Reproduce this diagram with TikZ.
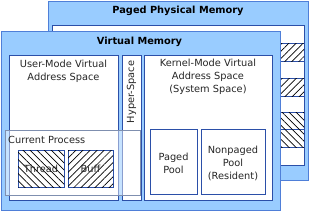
\documentclass[tikz,border=0pt]{standalone}
\usepackage{fontspec}
\setmainfont{DejaVu Sans}
\usetikzlibrary{patterns.meta}
\definecolor{lb}{HTML}{99CCFF}
\definecolor{bd}{HTML}{4F7FD8}
\definecolor{dk}{HTML}{2B4FA8}
\definecolor{cpb}{HTML}{7F8FAF}
\tikzset{
 frame/.style={fill=lb, draw=bd, line width=1pt},
 panel/.style={fill=white, draw=dk, line width=0.7pt},
 fwd/.style={postaction={pattern={Lines[angle=45,distance=5pt,line width=0.7pt]}}},
 bwd/.style={postaction={pattern={Lines[angle=-45,distance=5pt,line width=0.7pt]}}},
 title/.style={font=\bfseries\fontsize{9.8}{11}\selectfont, inner sep=0},
 lbl/.style={font=\fontsize{9.8}{12.8}\selectfont, align=center, inner sep=0, text=black!85},
}
\begin{document}
\begin{tikzpicture}[x=1pt,y=-1pt]
\useasboundingbox (0,0) rectangle (310,212);
% physical memory
\draw[frame] (48.5,1) rectangle (308.5,180) node[pos=0](phys){};
\draw[panel] (52,25) rectangle (304,165) node[pos=0](physin){};
\node[title] (pt) at (178,11) {Paged Physical Memory};
\draw[panel,fwd] (270,43) rectangle (304,61) node[pos=0](s1){};
\draw[panel,fwd] (270,78) rectangle (304,96) node[pos=0](s2){};
\draw[panel,bwd] (270,112) rectangle (304,129) node[pos=0](s3){};
\draw[panel,bwd] (270,129) rectangle (304,147) node[pos=0](s4){};
% virtual memory
\draw[frame] (1,31) rectangle (280,210.5) node[pos=0](virt){};
\node[title] (vt) at (139.5,41.5) {Virtual Memory};
\draw[panel] (9,55) rectangle (118,200) node[pos=0](user){};
\node[lbl] (usert) at (63.5,71) {User-Mode Virtual\\Address Space};
\draw[panel] (122,55) rectangle (141,200) node[pos=0](hyper){};
\node[lbl, rotate=90] (hypert) at (131.5,92) {Hyper-Space};
\draw[panel] (144,55) rectangle (272,200) node[pos=0](kern){};
\node[lbl] (kernt) at (208,76.5) {Kernel-Mode Virtual\\Address Space\\(System Space)};
\draw[panel] (150,129) rectangle (197,194) node[pos=0](pp){};
\node[lbl] (ppt) at (173.5,163.5) {Paged\\Pool};
\draw[panel] (201,129) rectangle (265,194) node[pos=0](np){};
\node[lbl] (npt) at (233,163.5) {Nonpaged\\Pool\\(Resident)};
% current process
\draw[fill=white, fill opacity=0.45, draw=cpb, line width=0.7pt] (5,130) rectangle (140,195) node[pos=0](cp){};
\node[lbl, anchor=west] (cpt) at (8,139.5) {Current Process};
\draw[panel,bwd] (18,150) rectangle (64,187) node[pos=0](thread){};
\node[lbl] (thr) at (41,169) {Thread};
\draw[panel,fwd] (68,150) rectangle (113,187) node[pos=0](buff){};
\node[lbl] (bf) at (90.5,169) {Buff};
\end{tikzpicture}
\end{document}
